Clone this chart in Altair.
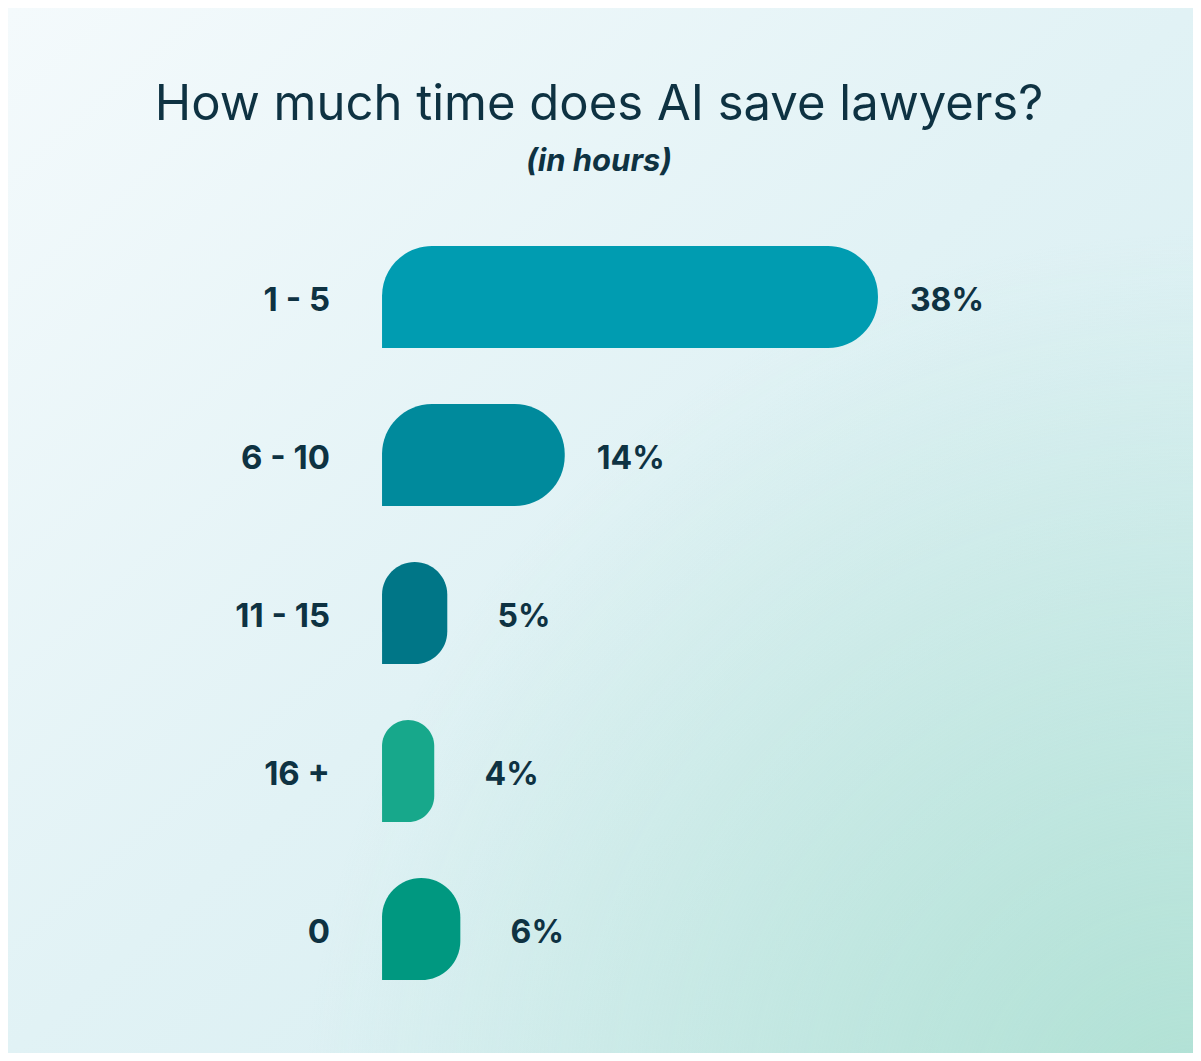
import altair as alt
import pandas as pd

categories = ["1 - 5", "6 - 10", "11 - 15", "16 +", "0"]
values = [38, 14, 5, 4, 6]
bar_colors = ["#009cb1", "#008a9c", "#007687", "#17a88b", "#009880"]
value_labels = ["38%", "14%", "5%", "4%", "6%"]

title_text = "How much time does AI save lawyers?"
subtitle_text = "(in hours)"

W, H = 1185, 1045
TEXT = "#0e3242"
FONT = "Inter"

df = pd.DataFrame({"cat": categories, "value": values, "label": value_labels})
one = pd.DataFrame({"k": [0]})

x_scale = alt.Scale(domain=[-28.66, 62.14], nice=False, zero=False)
y_enc = alt.Y("cat:N", sort=categories, axis=None,
              scale=alt.Scale(range=[210, 1000], paddingInner=0.354, paddingOuter=0.177))

bg_linear = alt.Chart(one).mark_rect(
    color={"gradient": "linear", "x1": 0, "y1": 0, "x2": 1, "y2": 1,
           "stops": [{"offset": 0, "color": "#f4fafc"},
                     {"offset": 0.5, "color": "#e1f2f5"},
                     {"offset": 1, "color": "#d2ecef"}]}
).encode(x=alt.value(0), x2=alt.value(W), y=alt.value(0), y2=alt.value(H))

bg_radial = alt.Chart(one).mark_rect(
    color={"gradient": "radial", "x1": 1, "y1": 1, "x2": 1, "y2": 1, "r1": 0, "r2": 0.75,
           "stops": [{"offset": 0, "color": "rgba(176,225,212,1)"},
                     {"offset": 1, "color": "rgba(176,225,212,0)"}]}
).encode(x=alt.value(0), x2=alt.value(W), y=alt.value(0), y2=alt.value(H))

bars = alt.Chart(df).transform_calculate(zero="0").mark_bar(
    cornerRadiusTopLeft=50, cornerRadiusTopRight=50,
    cornerRadiusBottomRight=50, cornerRadiusBottomLeft=0
).encode(
    x=alt.X("zero:Q", scale=x_scale, axis=None),
    x2="value:Q",
    y=y_enc,
    color=alt.Color("cat:N", scale=alt.Scale(domain=categories, range=bar_colors), legend=None),
)

cat_text = alt.Chart(df).mark_text(
    font=FONT, fontSize=33, fontWeight="bold", color=TEXT, align="right", baseline="middle", dy=4
).encode(x=alt.value(322), y=y_enc, text="cat:N")

val_text = alt.Chart(df).transform_calculate(
    pos="datum.value < 10 ? datum.value + 1.4 : datum.value"
).mark_text(
    font=FONT, fontSize=32, fontWeight="bold", color=TEXT, align="left", baseline="middle", dx=32, dy=4
).encode(x=alt.X("pos:Q", scale=x_scale, axis=None), y=y_enc, text="label:N")

title = alt.Chart(one).mark_text(
    text=title_text, font=FONT, fontSize=49, fontWeight=400, color=TEXT,
    align="center", baseline="alphabetic"
).encode(x=alt.value(591), y=alt.value(112))

subtitle = alt.Chart(one).mark_text(
    text=subtitle_text, font=FONT, fontSize=31, fontWeight="bold", fontStyle="italic",
    color=TEXT, align="center", baseline="alphabetic"
).encode(x=alt.value(591), y=alt.value(163))

chart = alt.layer(bg_linear, bg_radial, bars, cat_text, val_text, title, subtitle).properties(
    width=W, height=H,
    autosize=alt.AutoSizeParams(type="fit", contains="padding"),
    padding=0,
).configure_view(stroke=None)

chart.save("out.html", embed_options={"renderer": "svg", "actions": False})
